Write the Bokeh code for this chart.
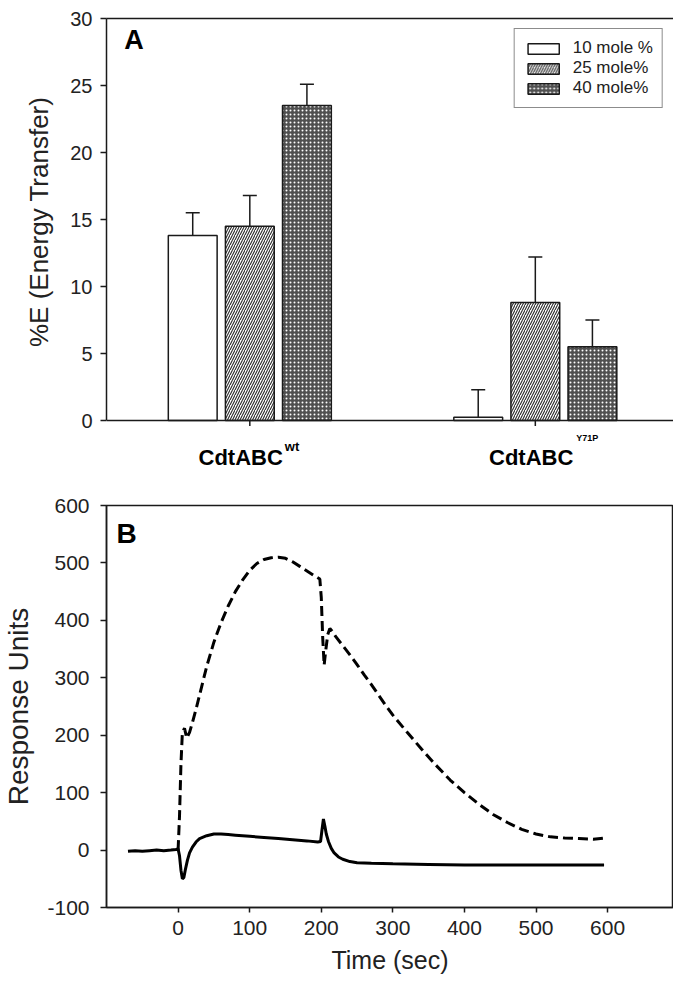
from bokeh.plotting import figure
from bokeh.models import (ColumnDataSource, Range1d, FixedTicker, Legend, LegendItem,
                          Label, Whisker, TeeHead, LinearAxis)
from bokeh.layouts import column
from bokeh.embed import file_html
from bokeh.resources import INLINE

# ---------------- Panel A data ----------------
group_names = ["CdtABC", "CdtABC"]
group_sups = ["wt", "Y71P"]
series_names = ["10 mole %", "25 mole%", "40 mole%"]
vals_10 = [13.8, 0.25]
vals_25 = [14.5, 8.8]
vals_40 = [23.5, 5.5]
err_10 = [1.7, 2.05]
err_25 = [2.3, 3.4]
err_40 = [1.6, 2.0]
y_ticks_a = [0, 5, 10, 15, 20, 25, 30]

# ---------------- Panel B data ----------------
t_dash = [0, 2, 4, 6, 9, 12, 16, 20, 25, 30, 40, 50, 60, 70, 80, 90, 100, 110, 120,
          130, 140, 150, 160, 170, 180, 190, 198, 200, 202, 204, 206, 209, 212, 216,
          220, 230, 240, 250, 260, 270, 280, 290, 300, 320, 340, 360, 380, 400, 420,
          440, 460, 480, 500, 520, 540, 560, 580, 595]
ru_dash = [0, 60, 150, 205, 212, 195, 205, 222, 245, 270, 320, 362, 396, 425, 450, 470,
           487, 499, 506, 509, 510, 508, 502, 494, 486, 478, 472, 440, 370, 322, 345,
           375, 386, 380, 372, 356, 340, 323, 305, 288, 270, 252, 235, 205, 176, 148,
           122, 100, 80, 62, 48, 36, 28, 23, 21, 20, 19, 21]
t_solid = [-70, -60, -50, -40, -30, -20, -10, -3, 0, 2, 4, 6, 8, 10, 13, 16, 20, 25, 30,
           40, 50, 60, 70, 80, 100, 120, 140, 160, 180, 195, 199, 201, 203, 205, 207,
           210, 214, 218, 224, 230, 240, 250, 270, 300, 350, 400, 450, 500, 550, 595]
ru_solid = [-2, -1, -2, -1, 0, -1, 0, 1, 2, -10, -35, -50, -48, -35, -18, -5, 5, 14, 20,
            25, 28, 28, 27, 26, 24, 22, 20, 18, 16, 14, 15, 35, 54, 42, 28, 15, 3, -5,
            -12, -16, -20, -22, -23, -24, -25, -26, -26, -26, -26, -26]
x_ticks_b = [0, 100, 200, 300, 400, 500, 600]
y_ticks_b = [-100, 0, 100, 200, 300, 400, 500, 600]

FONT = "Liberation Sans"
INK = "#1a1a1a"
TXT = "#222222"
NBSP = "\u00a0"


def style_axis(ax, tick_size):
    ax.axis_line_width = 1.5
    ax.axis_line_color = INK
    ax.major_tick_line_width = 1.5
    ax.major_tick_line_color = INK
    ax.major_tick_out = 6
    ax.major_tick_in = 0
    ax.minor_tick_line_color = None
    ax.major_label_text_font = FONT
    ax.major_label_text_font_size = tick_size
    ax.major_label_text_color = TXT
    ax.axis_label_text_font = FONT
    ax.axis_label_text_font_style = "normal"
    ax.axis_label_text_color = TXT


def style_fig(p):
    p.xgrid.grid_line_color = None
    p.ygrid.grid_line_color = None
    p.background_fill_color = "white"
    p.border_fill_color = "white"


# ================= Panel A =================
# the frame reaches below 0 so that the category labels can sit inside it
pA = figure(width=673, height=480, x_range=Range1d(0.498, 2.484),
            y_range=Range1d(-3.58, 30), x_axis_location=None,
            output_backend="svg", toolbar_location=None,
            min_border_left=103, min_border_right=0, min_border_top=18, min_border_bottom=12)
style_fig(pA)
pA.outline_line_color = None
ya = pA.yaxis[0]
style_axis(ya, "20px")
ya.ticker = FixedTicker(ticks=y_ticks_a)
ya.bounds = (y_ticks_a[0], y_ticks_a[-1])
ya.axis_label = NBSP * 6 + "%E (Energy Transfer)"
ya.axis_label_text_font_size = "26px"
ya.major_label_standoff = 8
ya.axis_label_standoff = 13

group_pos = [i + 1 for i in range(len(group_names))]
xa = LinearAxis(ticker=FixedTicker(ticks=[]), fixed_location=0)
style_axis(xa, "12px")
pA.add_layout(xa, "below")

top_a = LinearAxis(ticker=FixedTicker(ticks=[]))
style_axis(top_a, "12px")
pA.add_layout(top_a, "above")

# category tick marks just under the baseline
pA.segment(x0=group_pos, y0=[0] * len(group_pos), x1=group_pos,
           y1=[-0.4] * len(group_pos), line_color=INK, line_width=1.5)

offsets = [-0.2, 0.0, 0.2]
bar_w = 0.171
series_vals = [vals_10, vals_25, vals_40]
series_errs = [err_10, err_25, err_40]
bar_styles = [
    dict(fill_color="white"),
    dict(fill_color="white", hatch_pattern="/", hatch_color="#2a2a2a", hatch_scale=5,
         hatch_weight=1.1),
    dict(fill_color="#505050", hatch_pattern=".", hatch_color="white", hatch_scale=4,
         hatch_weight=1.7),
]
items = []
for k in range(3):
    xs = [g + offsets[k] for g in group_pos]
    src = ColumnDataSource(dict(x=xs, top=series_vals[k],
                                up=[v + e for v, e in zip(series_vals[k], series_errs[k])]))
    r = pA.vbar(x="x", top="top", bottom=0, width=bar_w, source=src,
                line_color=INK, line_width=1.5, **bar_styles[k])
    items.append(LegendItem(label=series_names[k], renderers=[r]))
    wh = Whisker(base="x", lower="top", upper="up", source=src, line_color=INK,
                 line_width=1.5, lower_head=None,
                 upper_head=TeeHead(size=14, line_width=1.5, line_color=INK))
    pA.add_layout(wh)

legend = Legend(items=items, location="top_right", margin=10, padding=9, spacing=0,
                label_height=20, glyph_height=13, glyph_width=39, label_standoff=10,
                label_text_font=FONT, label_text_font_size="17px",
                label_text_color=TXT, border_line_color=INK, border_line_width=1.5,
                background_fill_alpha=1.0)
pA.add_layout(legend)

pA.add_layout(Label(x=0.56, y=29.5, text="A", text_font=FONT, text_font_style="bold",
                    text_font_size="27px", text_align="left", text_baseline="top",
                    text_color="black"))

main_offsets = [33, 38]
sup_y = [-1.95, -1.3]
sup_size = ["13px", "9px"]
sup_gap = [2, 3]
for g, name, sup, mo, sy, ss, sg in zip(group_pos, group_names, group_sups, main_offsets,
                                         sup_y, sup_size, sup_gap):
    pA.add_layout(Label(x=g, y=-2.75, x_offset=mo, text=name, text_font=FONT,
                        text_font_style="bold", text_font_size="22px", text_align="right",
                        text_baseline="alphabetic", text_color="black"))
    pA.add_layout(Label(x=g, y=sy, x_offset=mo + sg, text=sup, text_font=FONT,
                        text_font_style="bold", text_font_size=ss, text_align="left",
                        text_baseline="alphabetic", text_color="black"))

# ================= Panel B =================
pB = figure(width=673, height=500, x_range=Range1d(-100, 692), y_range=Range1d(-100, 600),
            output_backend="svg", toolbar_location=None,
            min_border_left=103, min_border_right=0, min_border_top=25, min_border_bottom=73)
style_fig(pB)
pB.outline_line_color = INK
pB.outline_line_width = 1.5
style_axis(pB.xaxis[0], "21px")
style_axis(pB.yaxis[0], "21px")
pB.xaxis.ticker = FixedTicker(ticks=x_ticks_b)
pB.yaxis.ticker = FixedTicker(ticks=y_ticks_b)
pB.yaxis.major_label_overrides = {y_ticks_b[0]: "-100"}
pB.xaxis.major_tick_out = 5
pB.xaxis.major_label_standoff = 8
pB.yaxis.major_label_standoff = 11
pB.xaxis.axis_label = "Time (sec)"
pB.xaxis.axis_label_text_font_size = "25px"
pB.xaxis.axis_label_standoff = 8
pB.yaxis.axis_label = "Response Units"
pB.yaxis.axis_label_text_font_size = "28px"
pB.yaxis.axis_label_standoff = 10

pB.line(t_dash, ru_dash, line_color="black", line_width=3, line_dash="10 5")
pB.line(t_solid, ru_solid, line_color="black", line_width=3)
pB.add_layout(Label(x=-86, y=578, text="B", text_font=FONT, text_font_style="bold",
                    text_font_size="28px", text_align="left", text_baseline="top",
                    text_color="black"))

layout = column(pA, pB, spacing=0)
open("out.html", "w").write(file_html(layout, INLINE))
